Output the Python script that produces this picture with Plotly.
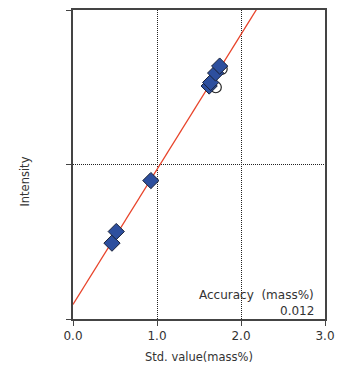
import numpy as np
import plotly.graph_objects as go

# Data
std_x = [0.464, 0.515, 0.927, 1.621, 1.639, 1.698, 1.746]
std_y = [0.491, 0.566, 0.896, 1.508, 1.531, 1.592, 1.637]
meas_x = [1.70, 1.77]
meas_y = [1.50, 1.618]
fit_intercept = 0.094
fit_slope = 0.874
x_ticks = [0.0, 1.0, 2.0, 3.0]
x_tick_labels = ["0.0", "1.0", "2.0", "3.0"]
y_ticks = [0, 1, 2]
accuracy_label = "Accuracy  (mass%)"
accuracy_value = "0.012"

fx = np.array([0.0, 3.0])
fy = fit_intercept + fit_slope * fx

FONT = "DejaVu Sans"
fig = go.Figure()
fig.add_trace(go.Scatter(x=fx, y=fy, mode="lines",
                         line=dict(color="#E8432A", width=1.3),
                         showlegend=False, hoverinfo="skip"))
fig.add_trace(go.Scatter(x=meas_x, y=meas_y, mode="markers",
                         marker=dict(symbol="circle", size=11, color="white",
                                     line=dict(color="#222", width=1.2)),
                         showlegend=False))
fig.add_trace(go.Scatter(x=std_x, y=std_y, mode="markers",
                         marker=dict(symbol="diamond", size=12.5, color="#2D4F9E",
                                     line=dict(color="#1a2238", width=1)),
                         showlegend=False))

fig.update_layout(
    width=346, height=375,
    margin=dict(l=73, r=21, t=8, b=56),
    paper_bgcolor="white", plot_bgcolor="white",
    font=dict(family=FONT, color="#333", size=12),
    xaxis=dict(range=[0, 3], tickvals=x_ticks, ticktext=x_tick_labels,
               showline=True, linecolor="#444", linewidth=1.5, mirror=True,
               ticks="outside", ticklen=5, tickcolor="#444",
               showgrid=True, gridcolor="#222", griddash="1px,1px", gridwidth=1,
               zeroline=False, tickfont=dict(size=12, family=FONT, color="#333")),
    yaxis=dict(range=[0, 2], tickvals=y_ticks, showticklabels=False,
               showline=True, linecolor="#444", linewidth=1.5, mirror=True,
               ticks="outside", ticklen=5, tickcolor="#444",
               showgrid=True, gridcolor="#222", griddash="1px,1px", gridwidth=1,
               zeroline=False),
    annotations=[
        dict(text="Std. value(mass%)", xref="paper", yref="paper", x=0.5, y=-0.123,
             xanchor="center", yanchor="middle", showarrow=False,
             font=dict(size=11.5, family=FONT, color="#333")),
        dict(text="Intensity", xref="paper", yref="paper", x=-0.19, y=0.445,
             xanchor="center", yanchor="middle", textangle=-90, showarrow=False,
             font=dict(size=11.5, family=FONT, color="#333")),
        dict(text=accuracy_label, xref="paper", yref="paper", x=0.965, y=0.077,
             xanchor="right", yanchor="middle", showarrow=False,
             font=dict(size=12, family=FONT, color="#333")),
        dict(text=accuracy_value, xref="paper", yref="paper", x=0.965, y=0.026,
             xanchor="right", yanchor="middle", showarrow=False,
             font=dict(size=12, family=FONT, color="#333")),
    ],
)
fig.write_html("out.html")
